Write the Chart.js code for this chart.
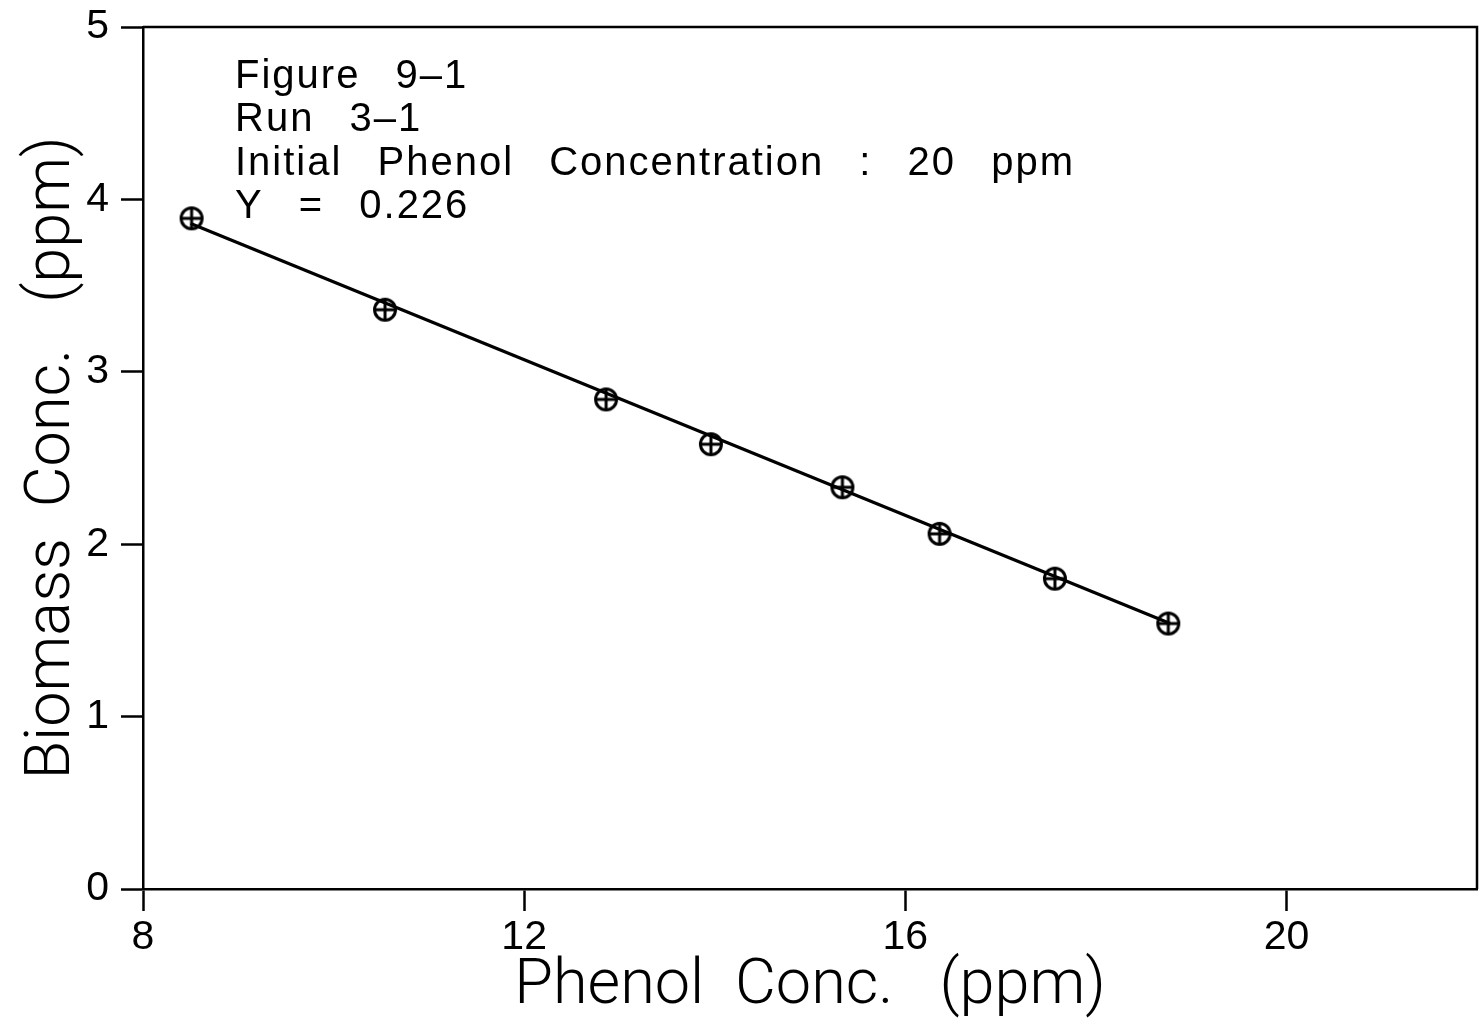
<!DOCTYPE html>
<html>
<head>
<meta charset="utf-8">
<script src="https://cdn.jsdelivr.net/npm/chart.js@4"></script>
<style>
  html, body { margin: 0; padding: 0; background: #fff; }
  #wrap { width: 1480px; height: 1029px; }
</style>
</head>
<body>
<div id="wrap"><canvas id="c" width="1480" height="1029"></canvas></div>
<script>
// Measured samples: phenol remaining vs. biomass produced
const phenol  = [8.51, 10.54, 12.86, 13.96, 15.34, 16.36, 17.57, 18.76];
const biomass = [3.89, 3.36, 2.84, 2.58, 2.33, 2.06, 1.80, 1.54];

// Fitted yield line (slope = -Y)
const fitPhenol  = [8.50, 18.78];
const fitBiomass = [3.86, 1.54];

const xTicks = [8, 12, 16, 20];
const yTicks = [0, 1, 2, 3, 4, 5];

const noteLines = [
  'Figure 9\u20131',
  'Run 3\u20131',
  'Initial Phenol Concentration : 20 ppm',
  'Y = 0.226'
];

const FONT = "'Liberation Sans', Arial, sans-serif";
const TITLE_FONT = "Roboto, 'Liberation Sans', sans-serif";

// Circle-with-plus marker
function makeMarker() {
  const s = 30, r = 10.5, c = document.createElement('canvas');
  c.width = s; c.height = s;
  const g = c.getContext('2d');
  g.strokeStyle = '#000';
  g.lineWidth = 3;
  g.beginPath(); g.arc(s / 2, s / 2, r, 0, Math.PI * 2); g.stroke();
  g.beginPath();
  g.moveTo(s / 2 - r, s / 2); g.lineTo(s / 2 + r, s / 2);
  g.moveTo(s / 2, s / 2 - r); g.lineTo(s / 2, s / 2 + r);
  g.stroke();
  return c;
}
const marker = makeMarker();

// Top and right frame lines plus the text block
const framePlugin = {
  id: 'frame',
  afterDraw(chart) {
    const { ctx, chartArea: a } = chart;
    ctx.save();
    ctx.strokeStyle = '#000';
    ctx.lineWidth = 2.5;
    ctx.beginPath();
    ctx.moveTo(a.left, a.top);
    ctx.lineTo(a.right, a.top);
    ctx.lineTo(a.right, a.bottom);
    ctx.stroke();

    ctx.fillStyle = '#000';
    ctx.font = '40px ' + FONT;
    ctx.textBaseline = 'alphabetic';
    ctx.textAlign = 'left';
    ctx.letterSpacing = '2px';
    ctx.wordSpacing = '22px';
    const x0 = a.left + 92, y0 = 88, dy = 43.4;
    noteLines.forEach((t, i) => ctx.fillText(t, x0, y0 + i * dy));
    ctx.restore();
  }
};

new Chart(document.getElementById('c'), {
  type: 'scatter',
  data: {
    datasets: [
      {
        data: fitPhenol.map((x, i) => ({ x, y: fitBiomass[i] })),
        showLine: true,
        borderColor: '#000',
        borderWidth: 3.2,
        pointRadius: 0,
        order: 2
      },
      {
        data: phenol.map((x, i) => ({ x, y: biomass[i] })),
        showLine: false,
        pointStyle: marker,
        pointRadius: 11,
        order: 1
      }
    ]
  },
  options: {
    responsive: false,
    animation: false,
    events: [],
    layout: { autoPadding: false, padding: { top: 27, right: 3, left: 0, bottom: 0 } },
    plugins: { legend: { display: false }, tooltip: { enabled: false } },
    scales: {
      x: {
        type: 'linear',
        min: 8, max: 22,
        afterBuildTicks: s => { s.ticks = xTicks.map(v => ({ value: v })); },
        afterFit: s => { s.height = 140; s.paddingLeft = 0; s.paddingRight = 0; },
        border: { display: true, color: '#000', width: 2.5 },
        grid: { drawOnChartArea: false, drawTicks: true, tickLength: 22, tickColor: '#000', tickWidth: 2.5 },
        ticks: { color: '#000', font: { family: FONT, size: 41 }, padding: 2, maxRotation: 0 },
        title: {
          display: true,
          text: 'Phenol  Conc.   (ppm)',
          color: '#000',
          font: { family: TITLE_FONT, size: 63, weight: '300' },
          padding: { top: 0, bottom: 4 }
        }
      },
      y: {
        type: 'linear',
        min: 0, max: 5,
        afterBuildTicks: s => { s.ticks = yTicks.map(v => ({ value: v })); },
        afterFit: s => { s.width = 143; s.paddingTop = 0; s.paddingBottom = 0; },
        border: { display: true, color: '#000', width: 2.5 },
        grid: { drawOnChartArea: false, drawTicks: true, tickLength: 22, tickColor: '#000', tickWidth: 2.5 },
        ticks: { color: '#000', font: { family: FONT, size: 41 }, padding: 12 },
        title: {
          display: true,
          text: 'Biomass  Conc.   (ppm)',
          color: '#000',
          font: { family: TITLE_FONT, size: 63, weight: '300' },
          padding: { top: 15, bottom: 0 }
        }
      }
    }
  },
  plugins: [framePlugin]
});
</script>
</body>
</html>
